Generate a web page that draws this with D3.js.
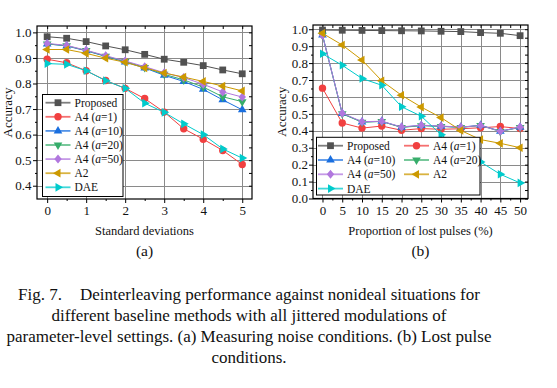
<!DOCTYPE html>
<html>
<head>
<meta charset="utf-8">
<script src="https://cdn.jsdelivr.net/npm/d3@7/dist/d3.min.js"></script>
<style>
    body { margin: 0; background: #fff; }
    svg { font-family: "Liberation Serif", "Times New Roman", serif; }
    .grid line { stroke: #8a8a8a; stroke-width: 1; shape-rendering: crispEdges; }
    .frame { fill: none; stroke: #000; stroke-width: 1.2; }
    .axis path { display: none; }
    .axis line { stroke: #000; stroke-width: 1; }
    .axis text { font-family: "Liberation Serif", serif; font-size: 13px; fill: #111; }
    .axisTitle { font-size: 12.5px; fill: #111; text-anchor: middle; }
    .yTitle { font-size: 13px; }
    .panelLabel { font-size: 15.5px; fill: #111; text-anchor: middle; }
    .legendBox { fill: #fff; stroke: #000; stroke-width: 1; }
    .legendText { font-size: 11.5px; fill: #111; }
    .caption { font-size: 17px; fill: #111; text-anchor: middle; }
</style>
</head>
<body>
<svg id="fig" width="557" height="388"></svg>
<script>

// methods compared in both panels
var methods = ["Proposed", "A4 (a=1)", "A4 (a=10)", "A4 (a=20)", "A4 (a=50)", "A2", "DAE"];
var methodColors = ["#515151", "#F14040", "#1A6FDF", "#37AD6B", "#B177DE", "#CC9900", "#00CBCC"];
var methodShapes = ["square", "circle", "triUp", "triDown", "diamond", "triLeft", "triRight"];

// (a) measuring noise
var noiseStd = [0, 0.5, 1, 1.5, 2, 2.5, 3, 3.5, 4, 4.5, 5];
var noiseProposed = [0.983, 0.977, 0.964, 0.947, 0.932, 0.914, 0.895, 0.883, 0.870, 0.853, 0.838];
var noiseA4a1 = [0.895, 0.881, 0.850, 0.812, 0.781, 0.741, 0.688, 0.623, 0.582, 0.538, 0.483];
var noiseA4a10 = [0.955, 0.947, 0.928, 0.906, 0.884, 0.861, 0.832, 0.808, 0.777, 0.736, 0.697];
var noiseA4a20 = [0.955, 0.948, 0.929, 0.907, 0.886, 0.863, 0.836, 0.814, 0.786, 0.748, 0.729];
var noiseA4a50 = [0.957, 0.949, 0.930, 0.909, 0.888, 0.866, 0.842, 0.823, 0.797, 0.767, 0.747];
var noiseA2 = [0.933, 0.933, 0.918, 0.899, 0.883, 0.861, 0.841, 0.825, 0.808, 0.790, 0.771];
var noiseDAE = [0.878, 0.875, 0.850, 0.811, 0.781, 0.723, 0.687, 0.642, 0.600, 0.544, 0.508];

// (b) lost pulses
var lostPct = [0, 5, 10, 15, 20, 25, 30, 35, 40, 45, 50];
var lostProposed = [0.995, 0.994, 0.993, 0.992, 0.991, 0.990, 0.988, 0.986, 0.980, 0.976, 0.962];
var lostA4a1 = [0.652, 0.446, 0.416, 0.428, 0.403, 0.413, 0.409, 0.412, 0.418, 0.425, 0.413];
var lostA4a10 = [0.966, 0.502, 0.452, 0.456, 0.421, 0.432, 0.427, 0.421, 0.433, 0.398, 0.421];
var lostA4a20 = [0.965, 0.500, 0.451, 0.455, 0.420, 0.430, 0.426, 0.420, 0.431, 0.396, 0.420];
var lostA4a50 = [0.964, 0.504, 0.454, 0.456, 0.423, 0.433, 0.428, 0.422, 0.431, 0.397, 0.422];
var lostA2 = [0.976, 0.907, 0.818, 0.695, 0.610, 0.540, 0.478, 0.402, 0.348, 0.326, 0.300];
var lostDAE = [0.855, 0.787, 0.709, 0.669, 0.542, 0.486, 0.377, 0.290, 0.216, 0.143, 0.092];

var noiseTicks = [0, 1, 2, 3, 4, 5];
var noiseMinorTicks = [0.5, 1.5, 2.5, 3.5, 4.5];
var noiseAccTicks = [0.4, 0.5, 0.6, 0.7, 0.8, 0.9, 1.0];
var lostTicks = [0, 5, 10, 15, 20, 25, 30, 35, 40, 45, 50];
var lostMinorTicks = [2.5, 7.5, 12.5, 17.5, 22.5, 27.5, 32.5, 37.5, 42.5, 47.5];
var lostAccTicks = [0.0, 0.1, 0.2, 0.3, 0.4, 0.5, 0.6, 0.7, 0.8, 0.9, 1.0];

var captionLines = [
    ["Fig. 7.", "Deinterleaving performance against nonideal situations for"],
    ["", "different baseline methods with all jittered modulations of"],
    ["", "parameter-level settings. (a) Measuring noise conditions. (b) Lost pulse"],
    ["", "conditions."]
];

/**
 * marker path for a given shape, centred on 0,0
 */
function markerPath(shape) {
    var s = 3.4, t = 5, c = 0.866;
    switch (shape) {
        case "square": return "M" + -s + "," + -s + "h" + 2 * s + "v" + 2 * s + "h" + -2 * s + "Z";
        case "circle": return d3.symbol(d3.symbolCircle, Math.PI * 3.7 * 3.7)();
        case "triUp": return "M0," + -t + "L" + t * c + "," + t / 2 + "L" + -t * c + "," + t / 2 + "Z";
        case "triDown": return "M0," + t + "L" + t * c + "," + -t / 2 + "L" + -t * c + "," + -t / 2 + "Z";
        case "triLeft": return "M" + -t + ",0L" + t / 2 + "," + -t * c + "L" + t / 2 + "," + t * c + "Z";
        case "triRight": return "M" + t + ",0L" + -t / 2 + "," + -t * c + "L" + -t / 2 + "," + t * c + "Z";
        case "diamond": return "M0,-4.5L3.7,0L0,4.5L-3.7,0Z";
    }
}

/**
 * writes a method name, with the "a" of "a=.." in italics
 */
function writeName(textSel, name) {
    var m = name.match(/^(.*\()a(=.*)$/);
    if (!m) {
        textSel.text(name);
        return;
    }
    textSel.append("tspan").text(m[1]);
    textSel.append("tspan").attr("font-style", "italic").text("a");
    textSel.append("tspan").text(m[2]);
}

/**
 * Constructor for one accuracy panel
 */
function AccuracyChart(svg, cfg) {
    var self = this;
    self.svg = svg;
    self.cfg = cfg;
    self.init();
}

AccuracyChart.prototype.init = function () {
    var self = this;
    var cfg = self.cfg;
    var b = cfg.box;

    self.x = d3.scaleLinear().domain(cfg.xDomain).range([b.x0, b.x1]);
    self.y = d3.scaleLinear().domain(cfg.yDomain).range([b.y1, b.y0]);

    var g = self.svg.append("g");

    // grid
    var grid = g.append("g").attr("class", "grid");
    grid.selectAll(".gx").data(cfg.xTicks).enter().append("line")
        .attr("x1", d => Math.round(self.x(d)) + 0.5).attr("x2", d => Math.round(self.x(d)) + 0.5)
        .attr("y1", b.y0).attr("y2", b.y1);
    grid.selectAll(".gy").data(cfg.yTicks).enter().append("line")
        .attr("y1", d => Math.round(self.y(d)) + 0.5).attr("y2", d => Math.round(self.y(d)) + 0.5)
        .attr("x1", b.x0).attr("x2", b.x1);

    // outward ticks with labels on bottom / left
    g.append("g").attr("class", "axis")
        .attr("transform", "translate(0," + b.y1 + ")")
        .call(d3.axisBottom(self.x).tickValues(cfg.xTicks).tickSize(4).tickPadding(3).tickFormat(cfg.xFormat));
    g.append("g").attr("class", "axis")
        .attr("transform", "translate(0," + b.y1 + ")")
        .call(d3.axisBottom(self.x).tickValues(cfg.xMinor).tickSize(2).tickFormat(""));
    g.append("g").attr("class", "axis")
        .attr("transform", "translate(" + b.x0 + ",0)")
        .call(d3.axisLeft(self.y).tickValues(cfg.yTicks).tickSize(4).tickPadding(cfg.yPad).tickFormat(d3.format(".1f")));
    g.append("g").attr("class", "axis")
        .attr("transform", "translate(" + b.x0 + ",0)")
        .call(d3.axisLeft(self.y).tickValues(cfg.yMinor).tickSize(2).tickFormat(""));

    // inward mirrored ticks on top / right
    g.append("g").attr("class", "axis")
        .attr("transform", "translate(0," + b.y0 + ")")
        .call(d3.axisTop(self.x).tickValues(cfg.xTicks.concat(cfg.xMinor)).tickSize(-3).tickFormat(""));
    g.append("g").attr("class", "axis")
        .attr("transform", "translate(" + b.x1 + ",0)")
        .call(d3.axisRight(self.y).tickValues(cfg.yTicks.concat(cfg.yMinor)).tickSize(-3).tickFormat(""));

    // series
    var line = d3.line().x(d => self.x(d[0])).y(d => self.y(d[1]));
    cfg.series.forEach(function (s, i) {
        var pts = cfg.xValues.map((xv, j) => [xv, s[j]]);
        g.append("path")
            .attr("d", line(pts))
            .attr("fill", "none")
            .attr("stroke", methodColors[i])
            .attr("stroke-width", 1);
        g.selectAll(".m" + i).data(pts).enter().append("path")
            .attr("d", markerPath(methodShapes[i]))
            .attr("transform", d => "translate(" + self.x(d[0]) + "," + self.y(d[1]) + ")")
            .attr("fill", methodColors[i]);
    });

    g.append("rect").attr("class", "frame")
        .attr("x", b.x0).attr("y", b.y0)
        .attr("width", b.x1 - b.x0).attr("height", b.y1 - b.y0);

    // legend
    var L = cfg.legend;
    g.append("rect").attr("class", "legendBox")
        .attr("x", L.x0).attr("y", L.y0)
        .attr("width", L.x1 - L.x0).attr("height", L.y1 - L.y0);
    methods.forEach(function (name, i) {
        var col = i % L.cols, row = Math.floor(i / L.cols);
        var cx = L.colX[col], cy = L.rowY + row * L.rowStep;
        var item = g.append("g").attr("transform", "translate(" + cx + "," + cy + ")");
        item.append("line")
            .attr("x1", 0).attr("x2", L.lineLen)
            .attr("stroke", methodColors[i]).attr("stroke-width", 1.8).attr("stroke-opacity", 0.75);
        item.append("path")
            .attr("d", markerPath(methodShapes[i]))
            .attr("transform", "translate(" + L.lineLen / 2 + ",0)")
            .attr("fill", methodColors[i]);
        var t = item.append("text").attr("class", "legendText")
            .attr("x", L.lineLen + 4).attr("dy", "0.35em");
        writeName(t, name);
    });

    // titles
    g.append("text").attr("class", "axisTitle")
        .attr("x", (b.x0 + b.x1) / 2).attr("y", 235)
        .text(cfg.xTitle);
    g.append("text").attr("class", "axisTitle yTitle")
        .attr("transform", "translate(" + cfg.yTitleX + "," + (b.y0 + b.y1) / 2 + ") rotate(-90)")
        .text("Accuracy");
    g.append("text").attr("class", "panelLabel")
        .attr("x", (b.x0 + b.x1) / 2).attr("y", 256)
        .text(cfg.panel);
};

var svg = d3.select("#fig");

new AccuracyChart(svg, {
    box: { x0: 37, x1: 252, y0: 26, y1: 199 },
    xDomain: [-0.26, 5.25], yDomain: [0.348, 1.025],
    xValues: noiseStd,
    xTicks: noiseTicks, xMinor: noiseMinorTicks,
    yTicks: noiseAccTicks, yMinor: [0.45, 0.55, 0.65, 0.75, 0.85, 0.95],
    xFormat: d3.format("d"), yPad: 1.5,
    series: [noiseProposed, noiseA4a1, noiseA4a10, noiseA4a20, noiseA4a50, noiseA2, noiseDAE],
    legend: { x0: 42.5, x1: 123, y0: 94.5, y1: 196.5, cols: 1, colX: [45.5], rowY: 102.7, rowStep: 14.1, lineLen: 25 },
    xTitle: "Standard deviations", yTitleX: 11.5, panel: "(a)"
});

new AccuracyChart(svg, {
    box: { x0: 313, x1: 528, y0: 25, y1: 198.5 },
    xDomain: [-2.4, 52], yDomain: [0, 1.025],
    xValues: lostPct,
    xTicks: lostTicks, xMinor: lostMinorTicks,
    yTicks: lostAccTicks, yMinor: [0.05, 0.15, 0.25, 0.35, 0.45, 0.55, 0.65, 0.75, 0.85, 0.95],
    xFormat: d3.format("d"), yPad: 1,
    series: [lostProposed, lostA4a1, lostA4a10, lostA4a20, lostA4a50, lostA2, lostDAE],
    legend: { x0: 316.5, x1: 480, y0: 137.3, y1: 195, cols: 2, colX: [318, 404], rowY: 145.7, rowStep: 14.3, lineLen: 25 },
    xTitle: "Proportion of lost pulses (%)", yTitleX: 286, panel: "(b)"
});

// caption
var cap = svg.append("g");
captionLines.forEach(function (ln, i) {
    var t = cap.append("text").attr("class", "caption")
        .attr("x", 249).attr("y", 299.5 + i * 21);
    if (ln[0]) {
        t.append("tspan").text(ln[0]);
        t.append("tspan").attr("dx", 18).text(ln[1]);
    } else {
        t.text(ln[1]);
    }
});

</script>
</body>
</html>
